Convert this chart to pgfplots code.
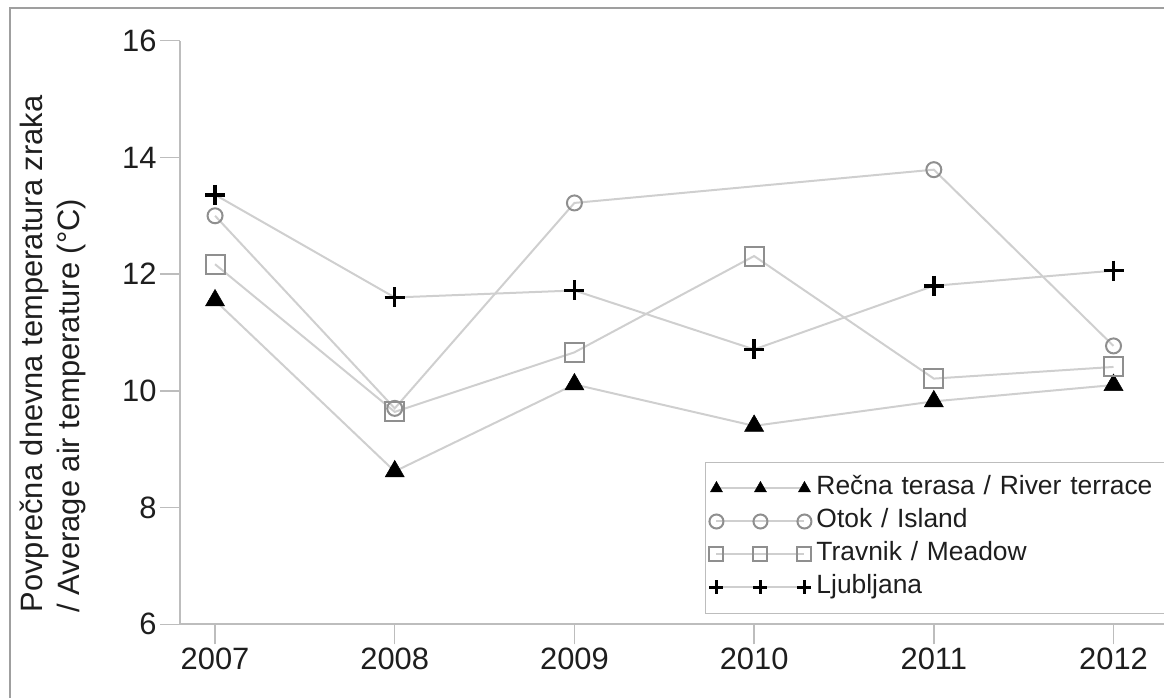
\documentclass[border=0pt]{standalone}
\usepackage{pgfplots}
\pgfplotsset{compat=1.18}
\usepackage{fontspec}
\setmainfont{Liberation Sans}
\definecolor{axgray}{HTML}{BDBDBD}
\definecolor{lngray}{HTML}{CFCFCF}
\definecolor{mkgray}{HTML}{8F8F8F}
\definecolor{txt}{HTML}{1E1E1E}
\begin{document}
\begin{tikzpicture}
\useasboundingbox (0,0) rectangle (1164bp,698bp);
\begin{axis}[
  at={(180bp,73.7bp)}, anchor=south west,
  scale only axis, width=984bp, height=583.6bp,
  xmin=2006.805, xmax=2012.281, ymin=6, ymax=16,
  axis x line*=bottom, axis y line*=left,
  axis line style={-, draw=axgray, line width=2bp},
  xtick={2007,2008,2009,2010,2011,2012},
  ytick={6,8,10,12,14,16},
  xtick pos=left, ytick pos=left,
  tick align=outside, major tick length=20bp,
  tick style={draw=axgray, line width=1.5bp},
  ticklabel style={font=\fontsize{31}{37}\selectfont, text=txt},
  /pgf/number format/assume math mode=true,
  /pgf/number format/1000 sep={},
  ylabel={Povprečna dnevna temperatura zraka\\/ Average air temperature (°C)},
  ylabel style={at={(axis description cs:-0.1626,0.0202)}, anchor=north west, align=left, inner sep=0pt, font=\fontsize{31}{37}\selectfont, text=txt},
  legend style={at={(axis description cs:0.5335,0.2781)}, anchor=north west, draw=axgray, line width=1bp, fill=white, inner xsep=4bp, inner ysep=12bp, row sep=5bp, font=\fontsize{26.5}{30}\selectfont, text=txt, nodes={text height=19bp, text depth=6bp, inner ysep=1.5bp, inner xsep=5bp, text width=360bp, align=left}},
  legend cell align=left,
  legend image code/.code={\draw[mark repeat=1,mark phase=1,mark size=7bp] plot coordinates {(0bp,0bp) (44bp,0bp) (88bp,0bp)};},
]
\addplot[draw=lngray, line width=2bp, mark=triangle*, mark size=11bp, mark options={draw=black, fill=black, line width=0.5bp}] coordinates {
(2007,11.55) (2008,8.62) (2009,10.11) (2010,9.40) (2011,9.82) (2012,10.10)};
\addlegendentry{Rečna terasa / River terrace}
\addplot[draw=lngray, line width=2bp, mark=o, mark size=7.5bp, mark options={draw=mkgray, fill=white, line width=2bp}] coordinates {
(2007,13.0) (2008,9.70) (2009,13.22) (2011,13.79) (2012,10.77)};
\addlegendentry{Otok / Island}
\addplot[draw=lngray, line width=2bp, mark=square, mark size=9.5bp, mark options={draw=mkgray, fill=white, line width=2bp}] coordinates {
(2007,12.17) (2008,9.64) (2009,10.66) (2010,12.31) (2011,10.21) (2012,10.41)};
\addlegendentry{Travnik / Meadow}
\addplot[draw=lngray, line width=2bp, mark=+, mark size=10bp, mark options={draw=black, line width=3.5bp}] coordinates {
(2007,13.36) (2008,11.60) (2009,11.72) (2010,10.71) (2011,11.80) (2012,12.06)};
\addlegendentry{Ljubljana}
\end{axis}
\draw[gray!75, line width=1.5bp] (10bp,-20bp) rectangle (1190bp,690bp);
\end{tikzpicture}
\end{document}
